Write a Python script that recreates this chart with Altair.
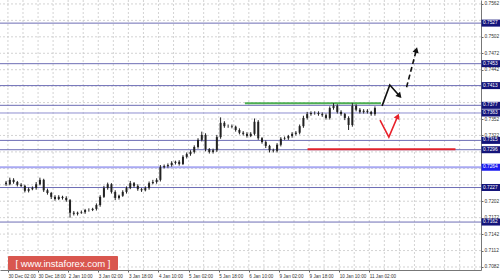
import altair as alt
import pandas as pd

# ---------------- data ----------------
closes = [0.7233, 0.7241, 0.7237, 0.7232, 0.7230, 0.7221, 0.7224, 0.7226, 0.7233, 0.7241,
          0.7222, 0.7217, 0.7210, 0.7206, 0.7210, 0.7208, 0.7204, 0.7181, 0.7179, 0.7181,
          0.7182, 0.7186, 0.7186, 0.7188, 0.7195, 0.7210, 0.7226, 0.7233, 0.7219, 0.7208,
          0.7212, 0.7219, 0.7226, 0.7235, 0.7230, 0.7224, 0.7222, 0.7226, 0.7235, 0.7237,
          0.7241, 0.7264, 0.7266, 0.7268, 0.7272, 0.7274, 0.7270, 0.7283, 0.7288, 0.7292,
          0.7301, 0.7314, 0.7323, 0.7297, 0.7292, 0.7295, 0.7319, 0.7345, 0.7339, 0.7339,
          0.7338, 0.7332, 0.7327, 0.7325, 0.7321, 0.7325, 0.7347, 0.7317, 0.7310, 0.7303,
          0.7295, 0.7294, 0.7305, 0.7316, 0.7317, 0.7321, 0.7325, 0.7327, 0.7339, 0.7354,
          0.7361, 0.7363, 0.7363, 0.7361, 0.7359, 0.7354, 0.7372, 0.7376, 0.7365, 0.7361,
          0.7354, 0.7341, 0.7376, 0.7369, 0.7365, 0.7367, 0.7365, 0.7361, 0.7372]
first_open = 0.7236
wick_up = [3, 4, 3, 2, 3, 2, 3, 3, 4, 4, 2, 3, 2, 3, 3, 2, 3, 2, 3, 2,
           3, 2, 3, 2, 3, 3, 4, 3, 2, 3, 2, 3, 3, 4, 2, 3, 2, 3, 3, 4,
           3, 4, 3, 3, 3, 2, 3, 3, 3, 3, 3, 3, 6, 3, 2, 3, 4, 10, 3, 3,
           3, 2, 3, 3, 3, 3, 6, 3, 2, 3, 2, 3, 3, 3, 3, 2, 3, 3, 3, 4,
           4, 3, 3, 3, 3, 3, 3, 5, 3, 3, 2, 3, 5, 3, 3, 3, 3, 2, 3]
wick_down = [3, 2, 3, 3, 2, 3, 3, 2, 3, 2, 3, 3, 4, 3, 2, 3, 3, 9, 3, 3,
             2, 3, 3, 2, 3, 3, 2, 3, 3, 4, 3, 2, 3, 2, 3, 3, 3, 2, 3, 2,
             3, 3, 2, 3, 3, 3, 3, 2, 3, 3, 3, 3, 3, 4, 3, 3, 3, 3, 3, 3,
             3, 3, 3, 3, 3, 2, 3, 3, 3, 4, 4, 3, 3, 3, 2, 3, 3, 3, 3, 3,
             3, 3, 3, 3, 3, 3, 3, 3, 3, 3, 4, 9, 3, 3, 3, 3, 3, 3, 3]

# support / resistance levels
levels = [0.7527, 0.7453, 0.7413, 0.7377, 0.7363, 0.7313, 0.7296, 0.7264, 0.7227, 0.7164]
level_text = ["0.7527", "0.7453", "0.7413", "0.7377", "0.7363", "0.7315", "0.7296", "0.7264", "0.7227", "0.7162"]
level_line_color = ["#6d6db5", "#6d6db5", "#6d6db5", "#6d6db5", "#8f8fd0", "#6d6db5", "#6d6db5", "#a9a9f2", "#6d6db5", "#6d6db5"]
level_line_width = [1, 1, 1, 1, 1, 1, 1, 2, 1, 1]
level_box_color = ["#14147a", "#14147a", "#14147a", "#14147a", "#14147a", "#14147a", "#14147a", "#1c1cf0", "#14147a", "#14147a"]

# axis ticks (grid at all, labels only where not covered by a level box)
y_ticks = [0.7082, 0.7112, 0.7142, 0.7172, 0.7202, 0.7232, 0.7262, 0.7292, 0.7322,
           0.7352, 0.7382, 0.7412, 0.7442, 0.7472, 0.7502, 0.7532, 0.7562]
y_tick_labels = [0.7082, 0.7112, 0.7142, 0.7172, 0.7202, 0.7322, 0.7352, 0.7442,
                 0.7472, 0.7502, 0.7562]
x_tick_hours = [0, 16, 32, 48, 64, 80, 96, 112, 128, 144, 160, 176, 192]
x_tick_labels = ["30 Dec 02:00", "30 Dec 18:00", "2 Jan 10:00", "3 Jan 02:00", "3 Jan 18:00",
                 "4 Jan 10:00", "5 Jan 02:00", "5 Jan 18:00", "6 Jan 10:00", "9 Jan 02:00",
                 "9 Jan 18:00", "10 Jan 10:00", "11 Jan 02:00"]
grid_hours = [0, 8, 16, 24, 32, 40, 48, 56, 64, 72, 80, 88, 96, 104, 112, 120, 128, 136,
              144, 152, 160, 168, 176, 184, 192, 200, 208, 216, 224, 232, 240, 248]

# highlighted zones
green_zone = {"t": 125.9, "t2": 198.2, "p": 0.7381}
red_zone = {"t": 159.2, "t2": 237.8, "p": 0.7297}

# forecast arrows
black_path_t = [198.8, 202.9, 208.1]
black_path_p = [0.7376, 0.7414, 0.7394]
dash_path_t = [211.8, 217.0]
dash_path_p = [0.7410, 0.7478]
red_path_t = [197.7, 202.4, 207.1]
red_path_p = [0.7350, 0.7319, 0.7357]
head_t = [208.1, 217.0, 207.1]
head_p = [0.7394, 0.7478, 0.7357]
head_angle = [138, 15, 24]
head_color = ["#111111", "#111111", "#e8222b"]

# ---------------- tables ----------------
rows = []
prev = first_open
for i, c in enumerate(closes):
    o = prev
    hi = max(o, c) + wick_up[i] * 0.0001
    lo = min(o, c) - wick_down[i] * 0.0001
    rows.append({"t": 2 * i - 1, "o": o, "c": c, "h": hi, "l": lo})
    prev = c
candles = pd.DataFrame(rows)

lv = pd.DataFrame({"p": levels, "txt": level_text, "lc": level_line_color,
                   "lw": level_line_width, "bc": level_box_color})

xs = alt.Scale(domain=[-1.56, 248.7], nice=False, zero=False)
ys = alt.Scale(domain=[0.70765, 0.75692], nice=False, zero=False)

lab_arr = "[" + ",".join("'" + s + "'" for s in x_tick_labels) + "]"
x_axis = alt.Axis(values=x_tick_hours, labelExpr=lab_arr + "[datum.value/16]",
                  orient="bottom", labelAlign="left", labelFontSize=4.6, labelColor="#333",
                  labelFont="Liberation Sans", tickSize=2, tickColor="#666", labelPadding=1,
                  domainColor="#777", grid=False, title=None, labelOverlap=False)
y_axis = alt.Axis(values=y_tick_labels, format=".4f", orient="right", labelFontSize=4.8,
                  labelColor="#333", labelFont="Liberation Sans", tickSize=2,
                  tickColor="#666", labelPadding=1, domainColor="#777", grid=False,
                  title=None, labelOverlap=False)

X = alt.X("t:Q", scale=xs, axis=x_axis)
Y = alt.Y("p:Q", scale=ys, axis=y_axis)

vgrid = alt.Chart(pd.DataFrame({"t": grid_hours})).mark_rule(
    color="#c8c8c8", strokeDash=[2, 2], strokeWidth=0.8).encode(x=X)
hgrid = alt.Chart(pd.DataFrame({"p": y_ticks})).mark_rule(
    color="#c8c8c8", strokeDash=[2, 2], strokeWidth=0.8).encode(y=Y)

level_rules = alt.Chart(lv).mark_rule().encode(
    y=Y, color=alt.Color("lc:N", scale=None), strokeWidth=alt.StrokeWidth("lw:Q", scale=None))

zones = alt.Chart(pd.DataFrame([
    {**green_zone, "col": "#4caf50"}, {**red_zone, "col": "#e0222c"}])).mark_rule(
    strokeWidth=2).encode(x=X, x2="t2:Q", y=Y, color=alt.Color("col:N", scale=None))

wicks = alt.Chart(candles).mark_rule(color="#222", strokeWidth=1).encode(
    x=X, y=alt.Y("l:Q", scale=ys, axis=y_axis), y2="h:Q")
bodies = alt.Chart(candles).mark_bar(color="#222", width=2).encode(
    x=X, y=alt.Y("o:Q", scale=ys, axis=y_axis), y2="c:Q")

blk = alt.Chart(pd.DataFrame({"t": black_path_t, "p": black_path_p, "k": range(3)})).mark_line(
    color="#111", strokeWidth=1.6).encode(x=X, y=Y, order="k:Q")
dsh = alt.Chart(pd.DataFrame({"t": dash_path_t, "p": dash_path_p, "k": range(2)})).mark_line(
    color="#111", strokeWidth=1.6, strokeDash=[5, 3]).encode(x=X, y=Y, order="k:Q")
red = alt.Chart(pd.DataFrame({"t": red_path_t, "p": red_path_p, "k": range(3)})).mark_line(
    color="#e8222b", strokeWidth=1.6).encode(x=X, y=Y, order="k:Q")
heads = alt.Chart(pd.DataFrame({"t": head_t, "p": head_p, "a": head_angle, "col": head_color})).mark_point(
    shape="triangle-up", filled=True, size=40, opacity=1).encode(
    x=X, y=Y, angle=alt.Angle("a:Q", scale=None), color=alt.Color("col:N", scale=None))

boxes = alt.Chart(lv).mark_tick(orient="horizontal", size=19, thickness=7, opacity=1).encode(
    y=Y, x=alt.value(491), color=alt.Color("bc:N", scale=None))
box_txt = alt.Chart(lv).mark_text(align="left", baseline="middle", fontSize=4.8,
                                  font="Liberation Sans", color="white").encode(
    y=Y, x=alt.value(483), text="txt:N")

wm_box = alt.Chart(pd.DataFrame({"k": [0]})).mark_rect(color="#d9574f", cornerRadius=1).encode(
    x=alt.value(8), x2=alt.value(118), y=alt.value(256), y2=alt.value(270))
wm_txt = alt.Chart(pd.DataFrame({"k": [0]})).mark_text(
    text="[ www.instaforex.com ]", color="white", fontSize=9.5, font="Liberation Sans",
    align="center", baseline="middle").encode(x=alt.value(63), y=alt.value(263.5))

chart = alt.layer(vgrid, hgrid, level_rules, zones, wicks, bodies, blk, dsh, red, heads,
                  boxes, box_txt, wm_box, wm_txt).properties(
    width=481, height=270,
    autosize=alt.AutoSizeParams(type="none"),
    padding={"left": 0, "top": 0, "right": 19, "bottom": 10},
    background="white",
).configure_view(stroke=None)

chart.save("out.html", embed_options={"renderer": "svg", "actions": False})
